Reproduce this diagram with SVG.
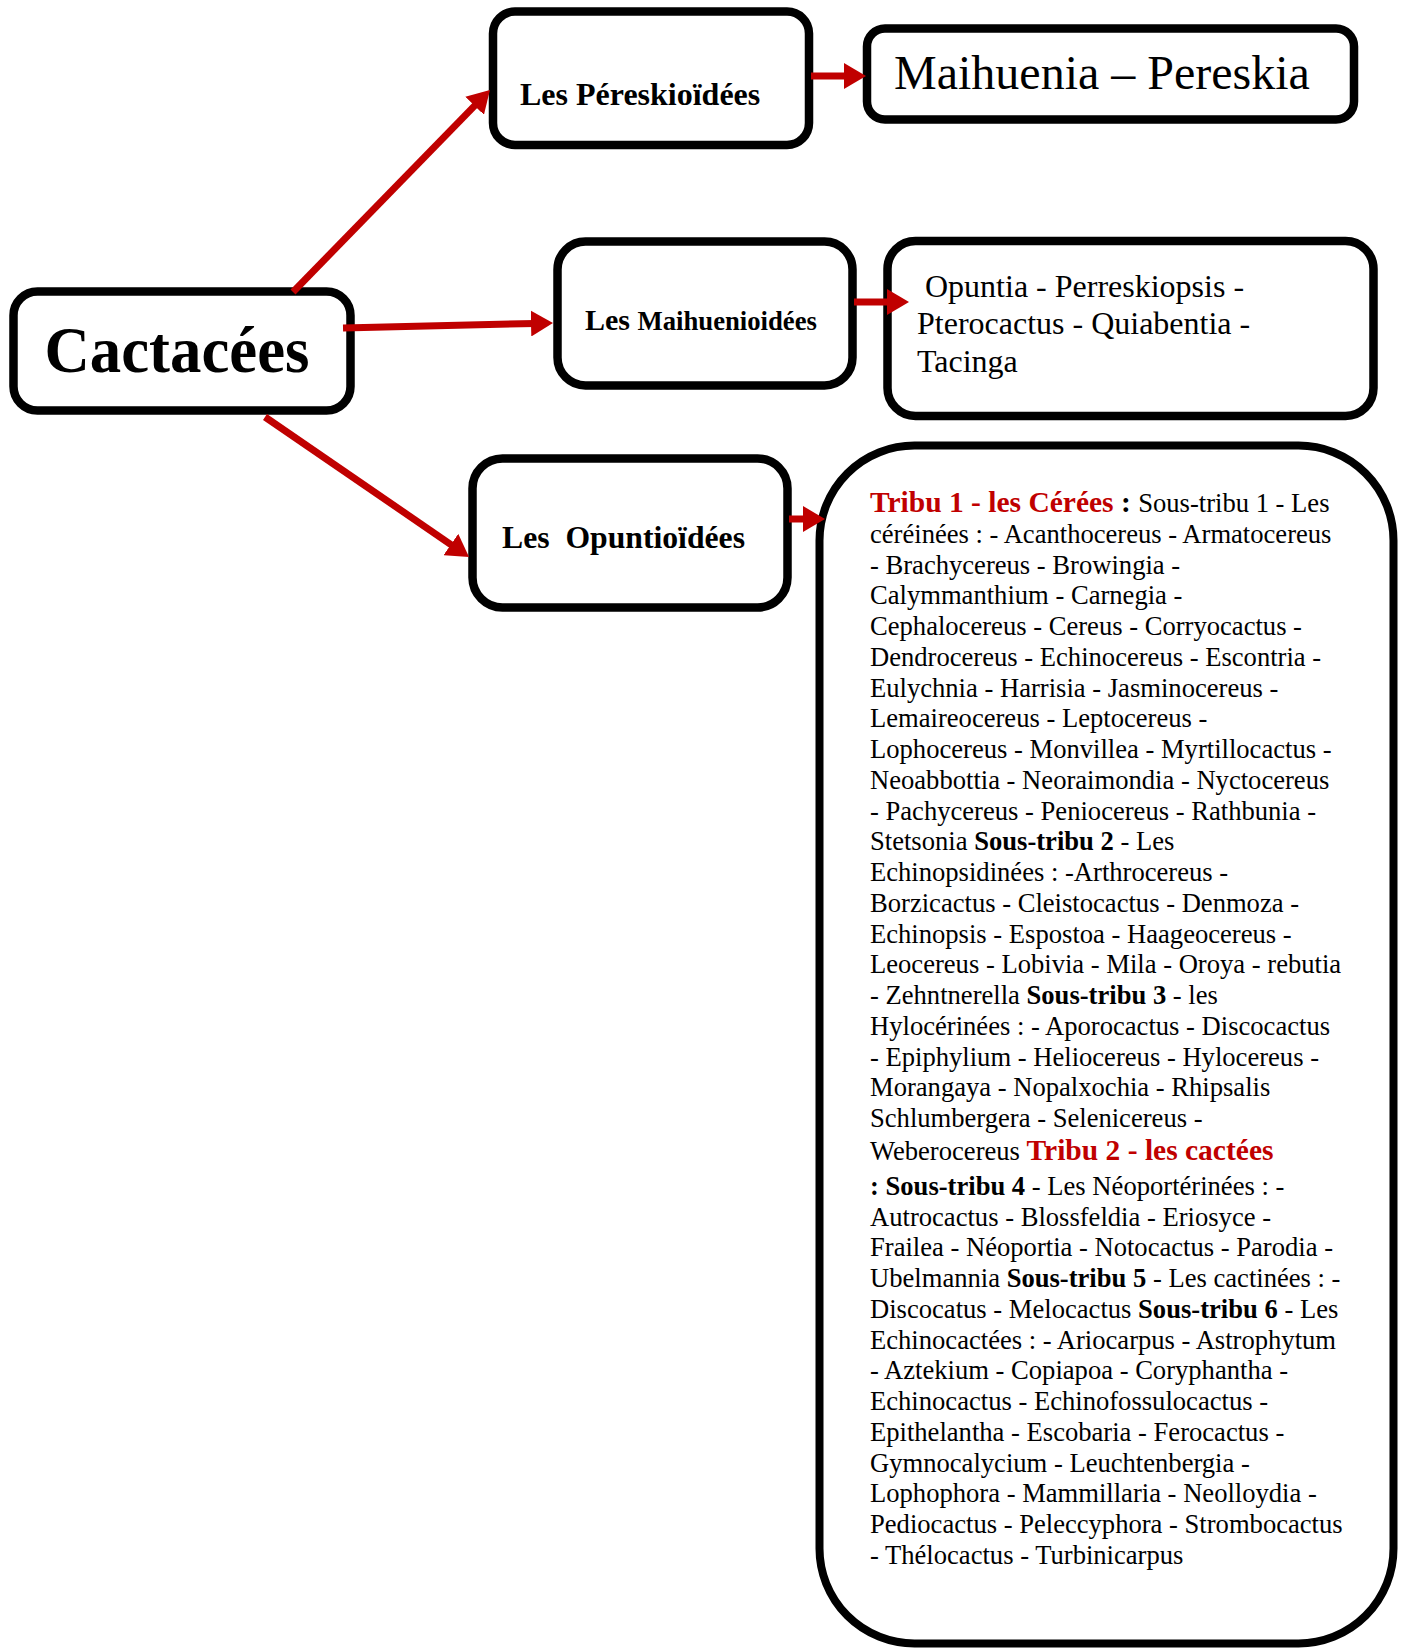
<svg xmlns="http://www.w3.org/2000/svg" width="1405" height="1652" viewBox="0 0 1405 1652">
<style>
.box{fill:#fff;stroke:#000;stroke-width:8.5}
.t{font-family:"Liberation Serif","Times New Roman",serif;fill:#000}
.b{font-weight:bold}
.red{fill:#C00000;font-weight:bold;font-size:29.5px}
.body{font-size:26.6px}
.conn{stroke:#C00000;stroke-width:7;fill:none}
</style>
<defs>
<marker id="ah" markerUnits="userSpaceOnUse" markerWidth="24" markerHeight="26" refX="4" refY="13" orient="auto">
<path d="M0,0 L22,13 L0,26 Z" fill="#C00000"/>
</marker>
</defs>
<rect width="1405" height="1652" fill="#fff"/>

<g id="node-cactacees">
<rect class="box" x="13.5" y="291.5" width="337" height="119" rx="24"/>
<text class="t b" x="44.5" y="371.7" font-size="66" textLength="265" lengthAdjust="spacingAndGlyphs">Cactacées</text>
</g>

<g id="node-pereskioidees">
<rect class="box" x="493" y="11.5" width="316" height="133.5" rx="22"/>
<text class="t b" x="520" y="105" font-size="32">Les Péreskioïdées</text>
</g>

<g id="node-maihuenia-pereskia">
<rect class="box" x="867" y="28.5" width="487" height="91" rx="18"/>
<text class="t" x="894" y="89" font-size="48">Maihuenia – Pereskia</text>
</g>

<g id="node-maihuenioidees">
<rect class="box" x="557.5" y="241.5" width="295" height="144" rx="28"/>
<text class="t b" x="585" y="330"><tspan font-size="30">Les </tspan><tspan font-size="26.7">Maihuenioidées</tspan></text>
</g>

<g id="node-opuntia-list">
<rect class="box" x="887.5" y="241" width="486" height="175" rx="28"/>
<text class="t" font-size="32" xml:space="preserve"><tspan x="917" y="296.7"> Opuntia - Perreskiopsis -</tspan><tspan x="917" y="334">Pterocactus - Quiabentia -</tspan><tspan x="917" y="371.7">Tacinga</tspan></text>
</g>

<g id="node-opuntioidees">
<rect class="box" x="472.5" y="458.5" width="315" height="149" rx="30"/>
<text class="t b" x="502" y="548" font-size="31.7" xml:space="preserve">Les  Opuntioïdées</text>
</g>

<g id="node-tribus">
<rect class="box" x="819.5" y="445.5" width="574" height="1198" rx="95" style="stroke-width:8"/>
<text class="t body">
<tspan x="870" y="512"><tspan class="red">Tribu 1 - les Cérées</tspan><tspan class="b" font-size="29.5"> : </tspan>Sous-tribu 1 - Les</tspan>
<tspan x="870" y="542.75">céréinées : - Acanthocereus - Armatocereus</tspan>
<tspan x="870" y="573.5">- Brachycereus - Browingia -</tspan>
<tspan x="870" y="604.25">Calymmanthium - Carnegia -</tspan>
<tspan x="870" y="635">Cephalocereus - Cereus - Corryocactus -</tspan>
<tspan x="870" y="665.75">Dendrocereus - Echinocereus - Escontria -</tspan>
<tspan x="870" y="696.5">Eulychnia - Harrisia - Jasminocereus -</tspan>
<tspan x="870" y="727.25">Lemaireocereus - Leptocereus -</tspan>
<tspan x="870" y="758">Lophocereus - Monvillea - Myrtillocactus -</tspan>
<tspan x="870" y="788.75">Neoabbottia - Neoraimondia - Nyctocereus</tspan>
<tspan x="870" y="819.5">- Pachycereus - Peniocereus - Rathbunia -</tspan>
<tspan x="870" y="850.25">Stetsonia <tspan class="b">Sous-tribu 2</tspan> - Les</tspan>
<tspan x="870" y="881">Echinopsidinées : -Arthrocereus -</tspan>
<tspan x="870" y="911.75">Borzicactus - Cleistocactus - Denmoza -</tspan>
<tspan x="870" y="942.5">Echinopsis - Espostoa - Haageocereus -</tspan>
<tspan x="870" y="973.25">Leocereus - Lobivia - Mila - Oroya - rebutia</tspan>
<tspan x="870" y="1004">- Zehntnerella <tspan class="b">Sous-tribu 3</tspan> - les</tspan>
<tspan x="870" y="1034.75">Hylocérinées : - Aporocactus - Discocactus</tspan>
<tspan x="870" y="1065.5">- Epiphylium - Heliocereus - Hylocereus -</tspan>
<tspan x="870" y="1096.25">Morangaya - Nopalxochia - Rhipsalis</tspan>
<tspan x="870" y="1127">Schlumbergera - Selenicereus -</tspan>
<tspan x="870" y="1160">Weberocereus <tspan class="red">Tribu 2 - les cactées</tspan></tspan>
<tspan x="870" y="1194.5"><tspan class="b">: Sous-tribu 4</tspan> - Les Néoportérinées : -</tspan>
<tspan x="870" y="1225.5">Autrocactus - Blossfeldia - Eriosyce -</tspan>
<tspan x="870" y="1256.25">Frailea - Néoportia - Notocactus - Parodia -</tspan>
<tspan x="870" y="1287">Ubelmannia <tspan class="b">Sous-tribu 5</tspan> - Les cactinées : -</tspan>
<tspan x="870" y="1317.75">Discocatus - Melocactus <tspan class="b">Sous-tribu 6</tspan> - Les</tspan>
<tspan x="870" y="1348.5">Echinocactées : - Ariocarpus - Astrophytum</tspan>
<tspan x="870" y="1379.25">- Aztekium - Copiapoa - Coryphantha -</tspan>
<tspan x="870" y="1410">Echinocactus - Echinofossulocactus -</tspan>
<tspan x="870" y="1440.75">Epithelantha - Escobaria - Ferocactus -</tspan>
<tspan x="870" y="1471.5">Gymnocalycium - Leuchtenbergia -</tspan>
<tspan x="870" y="1502.25">Lophophora - Mammillaria - Neolloydia -</tspan>
<tspan x="870" y="1533">Pediocactus - Peleccyphora - Strombocactus</tspan>
<tspan x="870" y="1563.75">- Thélocactus - Turbinicarpus</tspan>
</text>
</g>

<g id="connectors">
<line class="conn" x1="293" y1="292" x2="477.4" y2="102.9" marker-end="url(#ah)"/>
<line class="conn" x1="343" y1="328" x2="535" y2="323.4" marker-end="url(#ah)"/>
<line class="conn" x1="265" y1="417" x2="454.2" y2="546.8" marker-end="url(#ah)"/>
<line class="conn" x1="811" y1="76" x2="848" y2="76" marker-end="url(#ah)"/>
<line class="conn" x1="854" y1="302" x2="891" y2="302" marker-end="url(#ah)"/>
<line class="conn" x1="789" y1="519" x2="807" y2="519" marker-end="url(#ah)"/>
</g>
</svg>
